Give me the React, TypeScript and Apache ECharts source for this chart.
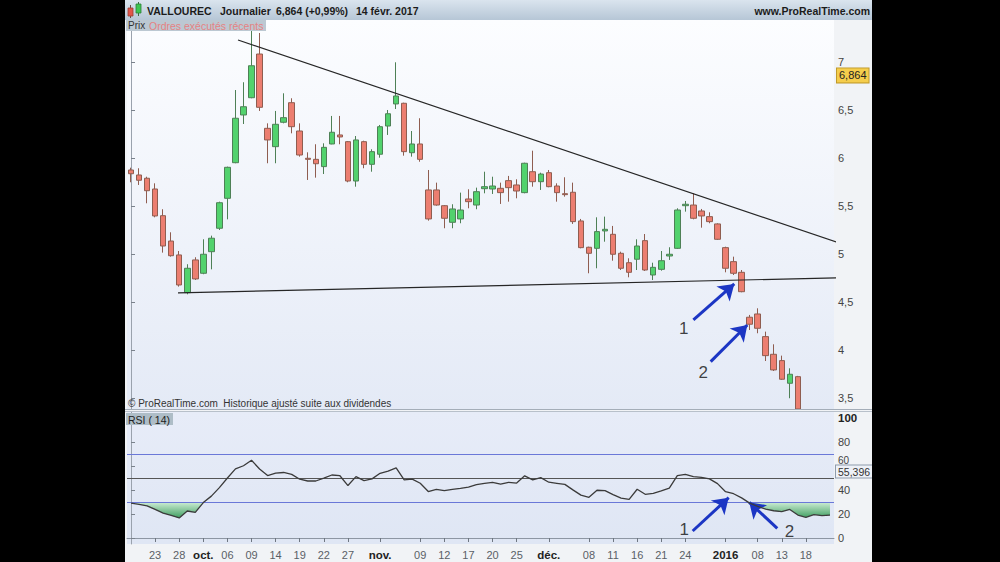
import React, { useEffect, useRef } from "react";
import * as echarts from "echarts";

// ---------- data ----------
const dates = [
  "2015-09-18","2015-09-21","2015-09-22","2015-09-23","2015-09-24","2015-09-25","2015-09-28","2015-09-29","2015-09-30",
  "2015-10-01","2015-10-02","2015-10-05","2015-10-06","2015-10-07","2015-10-08","2015-10-09","2015-10-12","2015-10-13","2015-10-14","2015-10-15","2015-10-16","2015-10-19","2015-10-20","2015-10-21","2015-10-22","2015-10-23","2015-10-26","2015-10-27","2015-10-28","2015-10-29","2015-10-30",
  "2015-11-02","2015-11-03","2015-11-04","2015-11-05","2015-11-06","2015-11-09","2015-11-10","2015-11-11","2015-11-12","2015-11-13","2015-11-16","2015-11-17","2015-11-18","2015-11-19","2015-11-20","2015-11-23","2015-11-24","2015-11-25","2015-11-26","2015-11-27","2015-11-30",
  "2015-12-01","2015-12-02","2015-12-03","2015-12-04","2015-12-07","2015-12-08","2015-12-09","2015-12-10","2015-12-11","2015-12-14","2015-12-15","2015-12-16","2015-12-17","2015-12-18","2015-12-21","2015-12-22","2015-12-23","2015-12-24","2015-12-28","2015-12-29","2015-12-30","2015-12-31",
  "2016-01-04","2016-01-05","2016-01-06","2016-01-07","2016-01-08","2016-01-11","2016-01-12","2016-01-13","2016-01-14","2016-01-15","2016-01-18","2016-01-19","2016-01-20","2016-01-21"
];

const tickLabels: Record<string, string> = {
  "2015-09-23": "23", "2015-09-28": "28", "2015-10-01": "oct.", "2015-10-06": "06", "2015-10-09": "09",
  "2015-10-14": "14", "2015-10-19": "19", "2015-10-22": "22", "2015-10-27": "27", "2015-11-02": "nov.",
  "2015-11-09": "09", "2015-11-12": "12", "2015-11-17": "17", "2015-11-20": "20", "2015-11-25": "25",
  "2015-12-01": "déc.", "2015-12-08": "08", "2015-12-11": "11", "2015-12-16": "16", "2015-12-21": "21",
  "2015-12-24": "24", "2016-01-04": "2016", "2016-01-08": "08", "2016-01-13": "13", "2016-01-18": "18"
};
const monthLabels = ["oct.", "nov.", "déc.", "2016"];

const opens = [
  5.875,5.823,5.789,5.677,5.399,5.135,4.990,4.597,4.938,4.799,
  5.024,5.268,5.580,5.951,6.448,6.628,7.083,6.309,6.118,6.372,
  6.576,6.281,5.997,5.986,5.910,6.146,6.240,6.170,5.760,6.170,
  5.934,6.039,6.333,6.563,6.570,6.055,6.146,5.667,5.667,5.503,
  5.330,5.365,5.573,5.510,5.680,5.677,5.684,5.764,5.719,5.639,
  5.857,5.753,5.847,5.708,5.628,5.643,5.344,5.070,5.059,5.240,
  5.205,5.007,4.909,4.945,5.139,4.781,4.840,4.979,5.059,5.503,
  5.510,5.448,5.389,5.313,5.066,4.920,4.809,4.341,4.375,4.139,
  3.955,3.889,3.653,3.722,3.250,3.100,2.980,3.050
];
const closes = [
  5.836,5.768,5.659,5.396,5.083,4.982,4.677,4.851,4.740,4.997,
  5.164,5.534,5.903,6.414,6.534,6.961,6.528,6.188,6.351,6.420,
  6.326,6.031,5.986,5.940,6.111,6.268,6.219,5.760,6.188,5.934,
  6.066,6.326,6.461,6.646,6.066,6.146,5.986,5.365,5.510,5.372,
  5.469,5.458,5.545,5.649,5.701,5.708,5.639,5.691,5.656,5.945,
  5.753,5.833,5.701,5.639,5.618,5.337,5.066,5.007,5.233,5.257,
  4.997,4.851,4.809,5.083,4.833,4.861,4.930,4.997,5.458,5.518,
  5.372,5.396,5.337,5.153,4.851,4.799,4.607,4.268,4.226,3.941,
  3.792,3.695,3.747,3.250,3.100,2.960,3.060,3.000
];
const lows = [
  5.747,5.719,5.528,5.382,5.014,4.972,4.660,4.580,4.729,4.789,
  4.840,5.250,5.361,5.945,6.354,6.622,6.490,5.945,5.945,6.361,
  6.257,6.014,5.771,5.795,5.833,6.143,6.143,5.747,5.701,5.893,
  5.857,6.003,6.240,6.510,6.024,6.014,5.961,5.347,5.503,5.268,
  5.268,5.320,5.476,5.466,5.632,5.625,5.521,5.545,5.580,5.632,
  5.701,5.667,5.695,5.545,5.597,5.313,5.059,4.799,4.851,5.128,
  4.930,4.833,4.757,4.833,4.823,4.729,4.826,4.938,5.052,5.441,
  5.361,5.274,5.320,5.146,4.809,4.781,4.601,4.208,4.174,3.885,
  3.781,3.688,3.497,3.200,3.050,2.900,2.930,2.950
];
const highs = [
  5.899,5.893,5.805,5.736,5.466,5.226,5.031,4.893,4.966,5.153,
  5.191,5.545,5.910,6.708,6.789,7.323,7.302,6.361,6.490,6.674,
  6.622,6.361,6.059,6.143,6.153,6.438,6.438,6.177,6.229,6.180,
  6.091,6.344,6.500,6.997,6.576,6.281,6.414,5.875,5.743,5.510,
  5.518,5.639,5.674,5.691,5.857,5.805,5.743,5.813,5.778,5.951,
  6.076,5.847,5.875,5.736,5.799,5.743,5.365,5.076,5.382,5.389,
  5.292,5.024,4.955,5.153,5.208,4.909,5.031,5.070,5.476,5.552,
  5.632,5.469,5.434,5.320,5.076,4.972,4.833,4.365,4.434,4.191,
  4.059,3.941,3.809,3.730,3.300,3.150,3.120,3.100
];

const rsi = [
  29.1,28.0,26.8,23.8,20.7,18.8,16.7,22.5,21.4,29.5,
  34.9,42.0,50.0,57.6,60.2,64.8,57.5,52.0,54.0,54.6,
  53.0,49.0,47.5,47.5,49.9,52.5,51.9,43.7,51.1,47.8,
  49.3,53.9,55.7,58.4,48.5,49.1,45.6,38.7,40.6,39.5,
  40.6,41.3,42.4,44.5,45.5,46.4,44.9,46.4,45.8,51.8,
  48.5,50.3,46.5,45.6,44.7,40.1,35.7,33.9,39.8,39.5,
  36.2,33.3,32.2,40.6,36.4,37.2,39.2,41.6,52.0,53.0,
  51.2,50.6,49.3,45.3,38.6,36.9,33.4,29.1,26.3,24.0,
  22.7,21.9,23.8,19.1,17.2,19.5,18.7,19.1
];

const priceTicks = [3.5, 4, 4.5, 5, 5.5, 6, 6.5, 7];
const rsiTicks = [0, 20, 40, 60, 80, 100];
const rsiLevels = { high: 70, mid: 50, low: 30 };
const lastPrice = 6.864;
const lastRsi = 55.396;

// trend lines: [candle index, price]
const resistanceLine = [[13.32, 7.229], [92.23, 5.0]];
const supportLine = [[5.85, 4.594], [92.23, 4.76]];

// annotation arrows: [from, to] as [candle index, value]
const priceArrows = [
  [[70.0, 4.3125], [75.09, 4.6875]],
  [[72.15, 3.878], [76.71, 4.26]]
];
const priceArrowLabels = [
  { name: "1", value: [68.79, 4.226] },
  { name: "2", value: [71.23, 3.764] }
];
const rsiArrows = [
  [[69.91, 5.83], [74.39, 33.6]],
  [[80.44, 8.1], [76.95, 29.75]]
];
const rsiArrowLabels = [
  { name: "1", value: [68.87, 6.67] },
  { name: "2", value: [81.96, 5.25] }
];

const FONT = "'Liberation Sans', Arial, Helvetica, sans-serif";
const PRICE_MIN = 3.385;
const PRICE_MAX = 7.4375;

export default function App() {
  const ref = useRef<HTMLDivElement>(null);

  useEffect(() => {
    document.body.style.margin = "0";
    const chart = echarts.init(ref.current!, null, { renderer: "svg" });

    // only the part of each candle that lies inside the visible price range is drawn
    const vis = (v: number) => Math.max(v, PRICE_MIN);
    const candleData = dates.map((_, i) =>
      highs[i] < PRICE_MIN ? "-" : [vis(opens[i]), vis(closes[i]), vis(lows[i]), vis(highs[i])]
    );
    const rsiFloor = rsi.map((v) => Math.min(v, rsiLevels.low));
    const rsiBand = rsi.map((v) => rsiLevels.low - Math.min(v, rsiLevels.low));
    const tickIdx = new Set<number>();
    dates.forEach((d, i) => { if (tickLabels[d]) tickIdx.add(i); });
    const fmt = (v: number) => String(v).replace(".", ",");
    const lin = (a: string, b: string) => ({
      type: "linear", x: 0, y: 0, x2: 0, y2: 1,
      colorStops: [{ offset: 0, color: a }, { offset: 1, color: b }]
    });
    const n = dates.length;
    const hidden = { color: "rgba(0,0,0,0)", width: 0 };

    const arrowStyle = { color: "#1c36c4", width: 3, type: "solid" };

    const option: any = {
      animation: false,
      backgroundColor: "#f1f3f6",
      textStyle: { fontFamily: FONT },
      grid: [
        { left: 2, top: 20, width: 707, height: 389, show: true, borderWidth: 0,
          backgroundColor: lin("#fcfdff", "#e4eaf6") },
        { left: 2, top: 412, width: 707, height: 132, show: true, borderWidth: 0,
          backgroundColor: lin("#e7ecf8", "#dfe6f4") }
      ],
      xAxis: [
        { type: "category", gridIndex: 0, data: dates, boundaryGap: true, show: false },
        {
          type: "category", gridIndex: 1, data: dates, boundaryGap: true,
          axisLine: { show: true, lineStyle: { color: "#8d96a3" } },
          axisTick: { show: true, alignWithLabel: true, length: 4, interval: (i: number) => tickIdx.has(i), lineStyle: { color: "#6f7782" } },
          axisLabel: {
            interval: (i: number) => tickIdx.has(i),
            color: "#5a5f66", fontSize: 11, margin: 5,
            formatter: (v: string) => {
              const l = tickLabels[v] || "";
              return monthLabels.includes(l) ? `{m|${l}}` : l;
            },
            rich: { m: { fontWeight: "bold", color: "#222", fontSize: 11.5 } }
          },
          splitLine: { show: false }
        },
        { type: "value", gridIndex: 0, min: -0.5, max: n - 0.5, show: false },
        { type: "value", gridIndex: 1, min: -0.5, max: n - 0.5, show: false }
      ],
      yAxis: [
        {
          type: "value", gridIndex: 0, position: "right", min: PRICE_MIN, max: PRICE_MAX,
          axisLine: { show: true, lineStyle: { color: "#9aa2ad" } },
          axisTick: { show: true, length: 4, customValues: priceTicks, lineStyle: { color: "#7a828c" } },
          axisLabel: { customValues: priceTicks, formatter: (v: number) => fmt(v), color: "#444", fontSize: 11, margin: 4 },
          splitLine: { show: false }
        },
        {
          type: "value", gridIndex: 1, position: "right", min: -5, max: 105,
          axisLine: { show: true, lineStyle: { color: "#9aa2ad" } },
          axisTick: { show: true, length: 4, customValues: rsiTicks, lineStyle: { color: "#7a828c" } },
          axisLabel: {
            customValues: rsiTicks, color: "#444", fontSize: 11, margin: 4,
            formatter: (v: number) => (v === 100 ? `{b|100}` : v === 60 ? `{u|60}` : String(v)),
            rich: {
              b: { fontWeight: "bold", color: "#222", fontSize: 11.5 },
              u: { color: "#444", fontSize: 10, padding: [0, 0, 11, 0] }
            }
          },
          splitLine: { show: false }
        }
      ],
      series: [
        {
          type: "candlestick", xAxisIndex: 0, yAxisIndex: 0, data: candleData, barWidth: 6, clip: true,
          itemStyle: { color: "#52d26d", color0: "#ec7e70", borderColor: "#4e8056", borderColor0: "#8f5d50", borderWidth: 1 },
          markLine: {
            silent: true, symbol: "none",
            data: [{
              yAxis: lastPrice, lineStyle: hidden,
              label: {
                show: true, position: "end", distance: 3, formatter: fmt(lastPrice),
                backgroundColor: "#f5cd4c", borderColor: "#c09a2a", borderWidth: 1,
                padding: [2, 2, 1, 2], color: "#222", fontSize: 11
              }
            }]
          }
        },
        {
          type: "line", xAxisIndex: 2, yAxisIndex: 0, data: resistanceLine, clip: false,
          symbol: "none", lineStyle: { color: "#262626", width: 1.2 }, z: 4
        },
        {
          type: "line", xAxisIndex: 2, yAxisIndex: 0, data: supportLine, clip: false,
          symbol: "none", lineStyle: { color: "#262626", width: 1.2 }, z: 4
        },
        {
          type: "scatter", xAxisIndex: 2, yAxisIndex: 0, data: priceArrowLabels, symbolSize: 1,
          itemStyle: { color: "rgba(0,0,0,0)" }, clip: false, z: 6,
          label: { show: true, position: "inside", formatter: "{b}", fontSize: 17, color: "#111" },
          markLine: {
            silent: true, symbol: ["none", "arrow"], symbolSize: 15,
            label: { show: false }, lineStyle: arrowStyle, itemStyle: { color: "#1c36c4" },
            data: priceArrows.map((a) => [{ coord: a[0] }, { coord: a[1] }])
          }
        },
        {
          type: "line", xAxisIndex: 1, yAxisIndex: 1, data: rsiFloor, stack: "os",
          symbol: "none", lineStyle: { opacity: 0 }, z: 2
        },
        {
          type: "line", xAxisIndex: 1, yAxisIndex: 1, data: rsiBand, stack: "os",
          symbol: "none", lineStyle: { opacity: 0 }, z: 2,
          areaStyle: { color: lin("#cfeed6", "#3f9e61"), opacity: 1 }
        },
        {
          type: "line", xAxisIndex: 1, yAxisIndex: 1, data: rsi, symbol: "none", z: 5,
          lineStyle: { color: "#3b3b3b", width: 1.3 },
          markLine: {
            silent: true, symbol: "none", label: { show: false },
            data: [
              { yAxis: rsiLevels.high, lineStyle: { color: "#6a78d8", width: 1, type: "solid" } },
              { yAxis: rsiLevels.low, lineStyle: { color: "#6a78d8", width: 1, type: "solid" } },
              { yAxis: rsiLevels.mid, lineStyle: { color: "#555", width: 1.2, type: "solid" } },
              {
                yAxis: lastRsi, lineStyle: hidden,
                label: {
                  show: true, position: "end", distance: 2, formatter: fmt(lastRsi),
                  backgroundColor: "#eef1f7", borderColor: "#8f9cac", borderWidth: 1,
                  padding: [1, 2, 0, 2], color: "#333", fontSize: 10.5
                }
              }
            ]
          }
        },
        {
          type: "scatter", xAxisIndex: 3, yAxisIndex: 1, data: rsiArrowLabels, symbolSize: 1,
          itemStyle: { color: "rgba(0,0,0,0)" }, clip: false, z: 6,
          label: { show: true, position: "inside", formatter: "{b}", fontSize: 17, color: "#111" },
          markLine: {
            silent: true, symbol: ["none", "arrow"], symbolSize: 15,
            label: { show: false }, lineStyle: arrowStyle, itemStyle: { color: "#1c36c4" },
            data: rsiArrows.map((a) => [{ coord: a[0] }, { coord: a[1] }])
          }
        }
      ],
      graphic: [
        { type: "rect", z: 100, shape: { x: 0, y: 0, width: 747, height: 20 }, style: { fill: lin("#dae4ee", "#b6c6d6") } },
        { type: "line", z: 101, shape: { x1: 5.5, y1: 5, x2: 5.5, y2: 18 }, style: { stroke: "#6b4a44", lineWidth: 1 } },
        { type: "rect", z: 102, shape: { x: 3, y: 8, width: 5, height: 8 }, style: { fill: "#e2564a", stroke: "#9a3c34", lineWidth: 0.8 } },
        { type: "line", z: 101, shape: { x1: 13.5, y1: 2, x2: 13.5, y2: 16 }, style: { stroke: "#3b6b3f", lineWidth: 1 } },
        { type: "rect", z: 102, shape: { x: 11, y: 4, width: 5, height: 9 }, style: { fill: "#3dc752", stroke: "#2e7d38", lineWidth: 0.8 } },
        { type: "text", z: 103, x: 22, y: 10.5, style: { text: "VALLOUREC", font: `bold 10.5px ${FONT}`, fill: "#1b1b1b", verticalAlign: "middle" } },
        { type: "text", z: 103, x: 95, y: 10.5, style: { text: "Journalier", font: `bold 10.5px ${FONT}`, fill: "#1b1b1b", verticalAlign: "middle" } },
        { type: "text", z: 103, x: 151, y: 10.5, style: { text: "6,864 (+0,99%)", font: `bold 10.5px ${FONT}`, fill: "#1b1b1b", verticalAlign: "middle" } },
        { type: "text", z: 103, x: 231, y: 10.5, style: { text: "14 févr. 2017", font: `bold 10.5px ${FONT}`, fill: "#1b1b1b", verticalAlign: "middle" } },
        { type: "text", z: 103, x: 745, y: 10.5, style: { text: "www.ProRealTime.com", font: `bold 10.5px ${FONT}`, fill: "#1b1b1b", align: "right", verticalAlign: "middle" } },
        { type: "rect", z: 100, shape: { x: 1, y: 20, width: 140, height: 11 }, style: { fill: "#bcc8d2" } },
        { type: "text", z: 103, x: 3, y: 25.5, style: { text: "Prix", font: `10px ${FONT}`, fill: "#333", verticalAlign: "middle" } },
        { type: "text", z: 103, x: 24, y: 25.5, style: { text: "Ordres exécutés récents", font: `10.5px ${FONT}`, fill: "#e58282", verticalAlign: "middle" } },
        { type: "text", z: 103, x: 3, y: 403.5, style: { text: "© ProRealTime.com  Historique ajusté suite aux dividendes", font: `10px ${FONT}`, fill: "#333", verticalAlign: "middle" } },
        { type: "line", z: 100, shape: { x1: 0, y1: 409.5, x2: 747, y2: 409.5 }, style: { stroke: "#a4adb8", lineWidth: 1 } },
        { type: "line", z: 100, shape: { x1: 0, y1: 411.5, x2: 747, y2: 411.5 }, style: { stroke: "#b8c0ca", lineWidth: 1 } },
        { type: "rect", z: 100, shape: { x: 1, y: 413, width: 47, height: 12 }, style: { fill: "#aebdc7" } },
        { type: "text", z: 103, x: 3, y: 419.5, style: { text: "RSI ( 14)", font: `10.5px ${FONT}`, fill: "#222", verticalAlign: "middle" } }
      ]
    };

    chart.setOption(option);
    return () => chart.dispose();
  }, []);

  return (
    <div style={{ position: "fixed", left: 0, top: 0, width: 1000, height: 562, background: "#000" }}>
      <div ref={ref} style={{ position: "absolute", left: 125, top: 0, width: 747, height: 562 }} />
    </div>
  );
}
